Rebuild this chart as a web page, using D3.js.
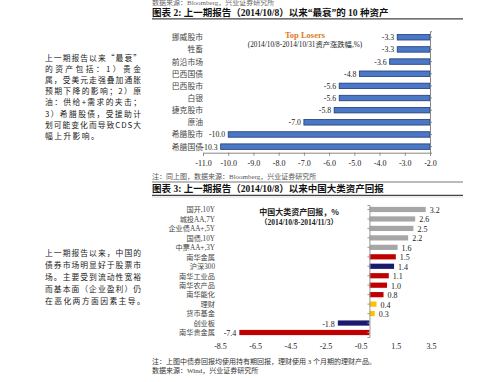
<!DOCTYPE html>
<html><head><meta charset="utf-8">
<script src="https://cdn.jsdelivr.net/npm/d3@7"></script>
<style>
html,body{margin:0;padding:0;background:#fff;}
svg{display:block;}
</style></head>
<body>
<svg id="c" width="499" height="382"></svg>
<script>
// ---------- data ----------
const topCats = ["挪威股市","牲畜","前沿市场","巴西国债","巴西股市","白银","捷克股市","原油","希腊股市","希腊国债"];
const topVals = [-3.3,-3.3,-3.6,-4.8,-5.6,-5.6,-5.8,-7.0,-10.0,-10.3];
const topTicks = [-11,-10,-9,-8,-7,-6,-5,-4,-3,-2];

const botCats = ["国开,10Y","城投AA,7Y","企业债AA+,5Y","国债,10Y","中票AA+,3Y","南华金属","沪深300","南华工业品","南华农产品","南华能化","理财","货币基金","创业板","南华贵金属"];
const botVals = [3.2,2.6,2.5,2.2,1.6,1.5,1.4,1.1,1.0,0.8,0.4,0.3,-1.8,-7.4];
const botGroups = ["债券","债券","债券","债券","债券","商品","股票","商品","商品","商品","现金","现金","股票","商品"];
const botTicks = [-8.5,-6.5,-4.5,-2.5,-0.5,1.5,3.5];

const para1 = ["上一期报告以来“最衰”","的资产包括：1）贵金","属，受美元走强叠加通胀","预期下降的影响；2）原","油：供给+需求的夹击；","3）希腊股债，受援助计","划可能变化而导致CDS大","幅上升影响。"];
const para2 = ["上一期报告以来，中国的","债券市场明显好于股票市","场。主要受到流动性宽裕","而基本面（企业盈利）仍","在恶化两方面因素主导。"];

// ---------- drawing ----------
const svg = d3.select("#c");
const SERIF = "'Liberation Serif','Noto Sans CJK SC',serif";
const CJK = "'Noto Sans CJK SC','Liberation Serif',sans-serif";
const fmt = d => d3.format(".1f")(d).replace("−","-");

// header texts
svg.append("text").attr("x",152).attr("y",5).attr("font-size",7).attr("fill","#666").attr("font-family",SERIF)
  .text("数据来源：Bloomberg，兴业证券研究所");
svg.append("text").attr("x",152).attr("y",16).attr("font-size",9.5).attr("font-weight","bold").attr("fill","#111").attr("font-family",SERIF)
  .text("图表 2:  上一期报告（2014/10/8）以来“最衰”的 10 种资产");
svg.append("line").attr("x1",152).attr("x2",463).attr("y1",18.8).attr("y2",18.8).attr("stroke","#444").attr("stroke-width",1.3);

svg.append("text").attr("x",152).attr("y",178.5).attr("font-size",7).attr("fill","#555").attr("font-family",SERIF)
  .text("注：同上图，数据来源：Bloomberg，兴业证券研究所");
svg.append("line").attr("x1",152).attr("x2",463).attr("y1",182).attr("y2",182).attr("stroke","#555").attr("stroke-width",0.8);
svg.append("text").attr("x",152).attr("y",192).attr("font-size",9.5).attr("font-weight","bold").attr("fill","#111").attr("font-family",SERIF)
  .text("图表 3:  上一期报告（2014/10/8）以来中国大类资产回报");
svg.append("line").attr("x1",152).attr("x2",463).attr("y1",195.3).attr("y2",195.3).attr("stroke","#444").attr("stroke-width",1.3);
svg.append("line").attr("x1",152).attr("x2",463).attr("y1",197).attr("y2",197).attr("stroke","#ddd").attr("stroke-width",1);

// paragraphs
function para(lines, y0, dy){
  lines.forEach((t,i)=>{
    const last = i===lines.length-1;
    const tx = svg.append("text").attr("x",45).attr("y",y0+i*dy).attr("font-size",7.8)
      .attr("fill","#1a1a1a").attr("font-family",CJK).text(t);
    if(!last) tx.attr("textLength",96).attr("lengthAdjust","spacing");
    else tx.attr("letter-spacing",1.4);
  });
}
para(para1, 61, 11.1);
para(para2, 256, 12);

// ---------- top chart ----------
const x1 = d3.scaleLinear().domain([-11,-2]).range([203,430]);
const y1 = d3.scaleBand().domain(topCats).range([31.2,152.7]).paddingInner(0.55).paddingOuter(0.275);

const g1 = svg.append("g");
g1.selectAll("rect").data(topVals).join("rect")
  .attr("x",d=>x1(d)).attr("width",d=>x1(-2)-x1(d))
  .attr("y",(d,i)=>y1(topCats[i])).attr("height",y1.bandwidth())
  .attr("fill","#4a78c6").attr("stroke","#1f3a72").attr("stroke-width",0.8);
g1.selectAll("text.v").data(topVals).join("text").attr("class","v")
  .attr("x",d=>x1(d)-3).attr("y",(d,i)=>y1(topCats[i])+y1.bandwidth()/2+3)
  .attr("text-anchor","end").attr("font-size",7.8).attr("fill","#222").attr("font-family",SERIF)
  .text(fmt);

// category labels
g1.selectAll("text.c").data(topCats).join("text").attr("class","c")
  .attr("x",203).attr("y",d=>y1(d)+y1.bandwidth()/2+3)
  .attr("text-anchor","end").attr("font-size",7.8).attr("fill","#444").attr("font-family",CJK).text(d=>d);

// x axis
const ax1 = g1.append("g").attr("transform","translate(0,152.7)")
  .call(d3.axisBottom(x1).tickValues(topTicks).tickSize(3).tickFormat(fmt));
ax1.select(".domain").attr("stroke","#888");
ax1.selectAll(".tick line").attr("stroke","#888");
ax1.selectAll("text").attr("font-size",8).attr("fill","#222").attr("font-family",SERIF).attr("dy","0.9em");
// y axis at right (value -2)
const ay1 = g1.append("g").attr("transform",`translate(${x1(-2)},0)`)
  .call(d3.axisRight(y1).tickSize(2).tickFormat(""));
ay1.select(".domain").attr("stroke","#888");
ay1.selectAll(".tick line").attr("stroke","#888");

// title
g1.append("text").attr("x",305).attr("y",38).attr("text-anchor","middle").attr("font-size",8.5)
  .attr("font-weight","bold").attr("fill","#e07b22").attr("font-family",SERIF).text("Top Losers");
g1.append("text").attr("x",305).attr("y",47).attr("text-anchor","middle").attr("font-size",7.3)
  .attr("fill","#222").attr("font-family",SERIF).text("(2014/10/8-2014/10/31资产涨跌幅,%)");

// ---------- bottom chart ----------
const colorMap = {"债券":"#a6a6a6","商品":"#c00000","股票":"#1a1a6e","现金":"#ffc000"};
const x2 = d3.scaleLinear().domain([-8.5,3.5]).range([220,431]);
const y2 = d3.scaleBand().domain(botCats).range([205,337]).paddingInner(0.45).paddingOuter(0.2);

const g2 = svg.append("g");
g2.selectAll("rect").data(botVals).join("rect")
  .attr("x",d=>x2(Math.min(0,d))).attr("width",d=>Math.abs(x2(d)-x2(0)))
  .attr("y",(d,i)=>y2(botCats[i])).attr("height",y2.bandwidth())
  .attr("fill",(d,i)=>colorMap[botGroups[i]]);
g2.selectAll("text.v").data(botVals).join("text").attr("class","v")
  .attr("x",d=>d>=0? x2(d)+4 : x2(d)-3)
  .attr("y",(d,i)=>y2(botCats[i])+y2.bandwidth()/2+3.5)
  .attr("text-anchor",d=>d>=0?"start":"end").attr("font-size",8).attr("fill","#222").attr("font-family",SERIF)
  .text(fmt);
g2.selectAll("text.c").data(botCats).join("text").attr("class","c")
  .attr("x",215).attr("y",d=>y2(d)+y2.bandwidth()/2+2.8)
  .attr("text-anchor","end").attr("font-size",7.2).attr("fill","#444").attr("font-family",SERIF).text(d=>d);

const ax2 = g2.append("g").attr("transform","translate(0,339)")
  .call(d3.axisBottom(x2).tickValues(botTicks).tickSize(0).tickFormat(fmt));
ax2.select(".domain").remove();
ax2.selectAll("text").attr("font-size",8).attr("fill","#222").attr("font-family",SERIF).attr("dy","0.9em");
const ay2 = g2.append("g").attr("transform",`translate(${x2(0)},0)`)
  .call(d3.axisLeft(y2).tickSize(2).tickFormat(""));
ay2.select(".domain").attr("stroke","#999");
ay2.selectAll(".tick line").attr("stroke","#999");

g2.append("text").attr("x",299).attr("y",215).attr("text-anchor","middle").attr("font-size",8)
  .attr("font-weight","bold").attr("fill","#222").attr("font-family",CJK).text("中国大类资产回报，%");
g2.append("text").attr("x",299).attr("y",224.5).attr("text-anchor","middle").attr("font-size",7.5)
  .attr("font-weight","bold").attr("fill","#222").attr("font-family",SERIF).text("（2014/10/8-2014/11/3）");

// footer
svg.append("text").attr("x",152).attr("y",363.5).attr("font-size",7).attr("fill","#333").attr("font-family",SERIF)
  .text("注：上图中债券回报均使用持有期回报，理财使用 3 个月期的理财产品。");
svg.append("text").attr("x",152).attr("y",372.5).attr("font-size",7).attr("fill","#333").attr("font-family",SERIF)
  .text("数据来源：Wind，兴业证券研究所");
</script>
</body></html>
